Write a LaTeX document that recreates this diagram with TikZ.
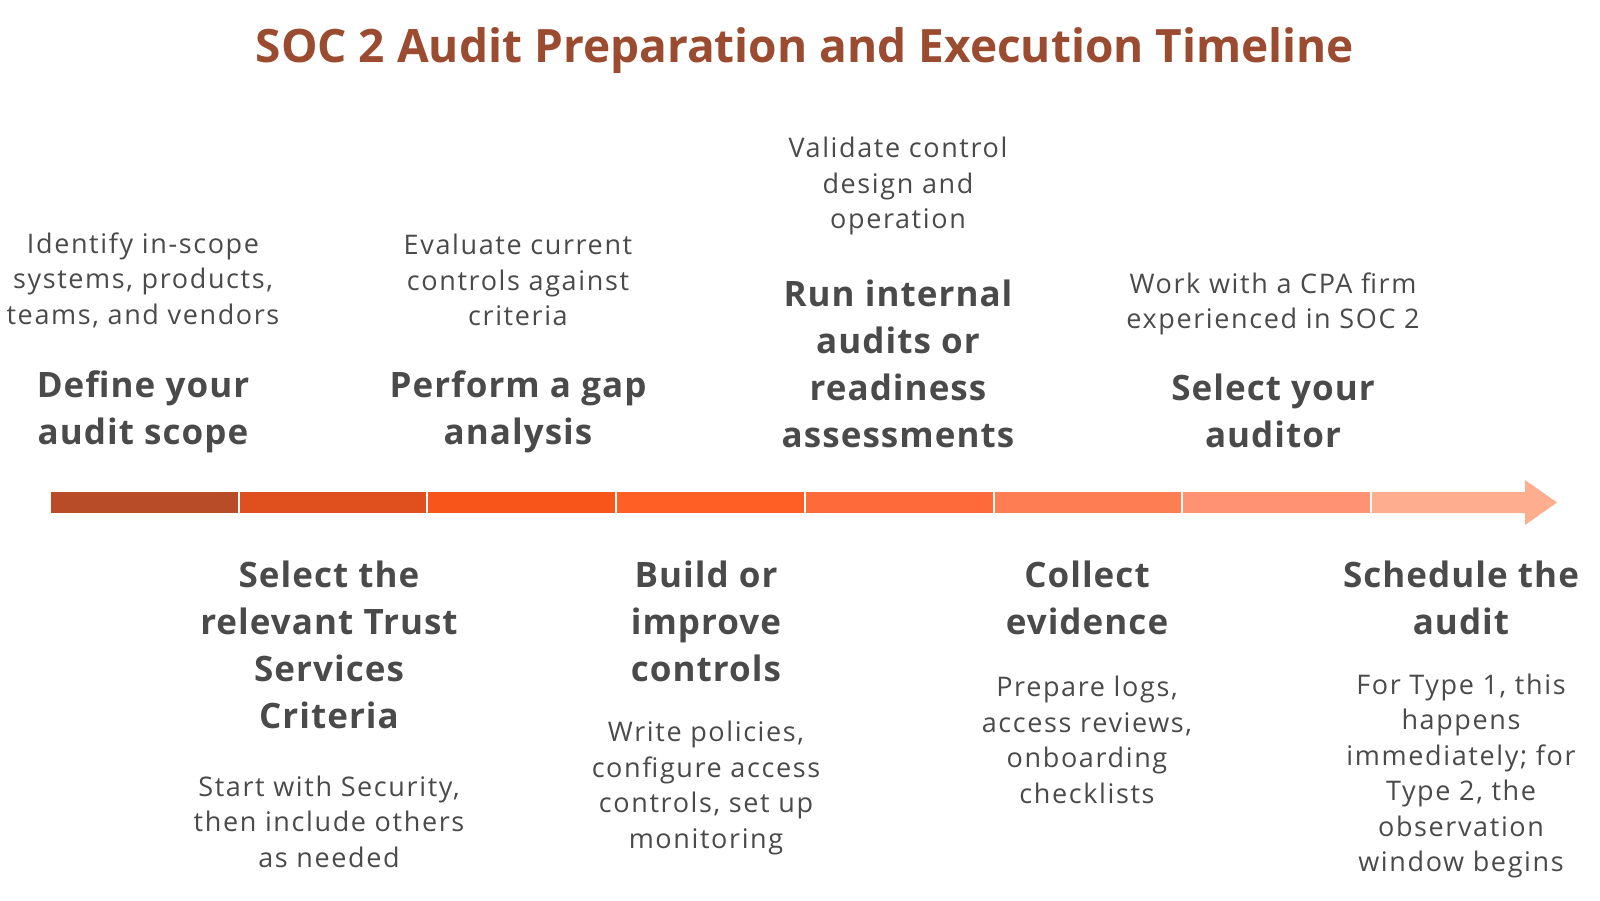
\documentclass[tikz,border=0pt]{standalone}
\usepackage{fontspec}
\newfontfamily\titlefont{Open Sans}
\newfontfamily\descfont{Open Sans}[LetterSpace=6]
\newfontfamily\headfont{Open Sans}[LetterSpace=3]
\definecolor{titlered}{HTML}{9A4B30}
\definecolor{ink}{HTML}{4A4A4A}
\definecolor{segA}{HTML}{B84C28}
\definecolor{segB}{HTML}{E0501E}
\definecolor{segC}{HTML}{F75519}
\definecolor{segD}{HTML}{FF5E25}
\definecolor{segE}{HTML}{FF6A3B}
\definecolor{segF}{HTML}{FF7D53}
\definecolor{segG}{HTML}{FF9272}
\definecolor{segH}{HTML}{FFAD8F}
\begin{document}
\begin{tikzpicture}[x=1pt, y=-1pt,
    stepdesc/.style={align=center, text=ink, inner sep=0pt, font=\descfont\fontsize{27}{35.5}\selectfont},
    steptitle/.style={align=center, text=ink, inner sep=0pt, font=\headfont\bfseries\fontsize{35}{47}\selectfont}]
  \useasboundingbox (0,0) rectangle (1600,900);
  \node[text=titlered, inner sep=0pt, font=\titlefont\bfseries\fontsize{46}{55}\selectfont] (title) at (805,51) {SOC 2 Audit Preparation and Execution Timeline};
        % timeline bar
        \fill[segA] (51,492) rectangle (237.7,513);
        \fill[segB] (239.7,492) rectangle (426.4,513);
        \fill[segC] (428.4,492) rectangle (615.1,513);
        \fill[segD] (617.1,492) rectangle (803.8,513);
        \fill[segE] (805.8,492) rectangle (992.5,513);
        \fill[segF] (994.5,492) rectangle (1181.2,513);
        \fill[segG] (1183.2,492) rectangle (1369.9,513);
        \fill[segH] (1371.9,492) -- (1525,492) -- (1525,480) -- (1557,502.5) -- (1525,525) -- (1525,513) -- (1371.9,513) -- cycle;
        % steps above the bar
        \node[stepdesc] (scopedesc) at (143,280) {Identify in-scope\\systems, products,\\teams, and vendors};
        \node[steptitle] (scope) at (143,412) {Define your\\audit scope};
        \node[stepdesc] (gapdesc) at (518,280) {Evaluate current\\controls against\\criteria};
        \node[steptitle] (gap) at (518,412) {Perform a gap\\analysis};
        \node[stepdesc] (readydesc) at (898,186) {Validate control\\design and\\operation};
        \node[steptitle] (ready) at (898,364) {Run internal\\audits or\\readiness\\assessments};
        \node[stepdesc] (auditordesc) at (1273,304) {Work with a CPA firm\\experienced in SOC 2};
        \node[steptitle] (auditor) at (1273,410.5) {Select your\\auditor};
        % steps below the bar
        \node[steptitle] (criteria) at (329,645) {Select the\\relevant Trust\\Services\\Criteria};
        \node[stepdesc] (criteriadesc) at (329,821.5) {Start with Security,\\then include others\\as needed};
        \node[steptitle] (controls) at (706,621.5) {Build or\\improve\\controls};
        \node[stepdesc] (controlsdesc) at (706,788) {Write policies,\\configure access\\controls, set up\\monitoring};
        \node[steptitle] (evidence) at (1087,597.5) {Collect\\evidence};
        \node[stepdesc] (evidencedesc) at (1087,740) {Prepare logs,\\access reviews,\\onboarding\\checklists};
        \node[steptitle] (schedule) at (1461,597.5) {Schedule the\\audit};
        \node[stepdesc] (scheduledesc) at (1461,776) {For Type 1, this\\happens\\immediately; for\\Type 2, the\\observation\\window begins};
      \end{tikzpicture}
\end{document}
